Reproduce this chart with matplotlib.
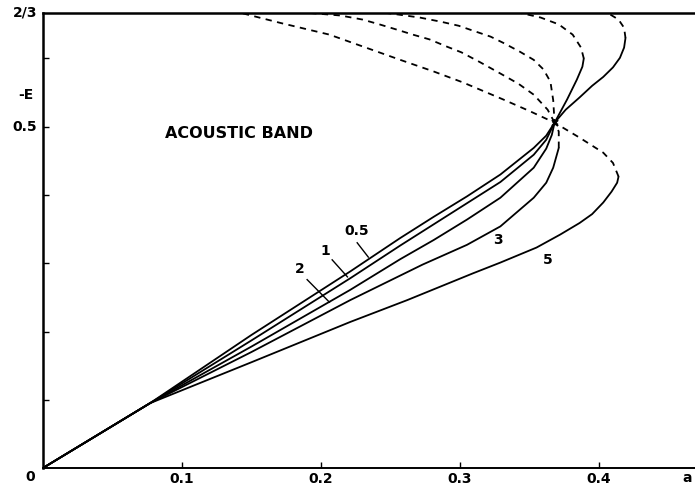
import matplotlib.pyplot as plt

# reduced coupling a, energy -E
# each curve: solid branch then dashed branch
a_05 = [0, 0.077, 0.150, 0.221, 0.257, 0.281, 0.305, 0.329, 0.353, 0.362, 0.368, 0.376, 0.386, 0.395, 0.403, 0.410, 0.415, 0.418, 0.419]
E_05 = [0, 0.095, 0.195, 0.288, 0.337, 0.368, 0.398, 0.430, 0.469, 0.487, 0.506, 0.525, 0.543, 0.560, 0.573, 0.587, 0.601, 0.616, 0.630]
a_05d = [0.419, 0.418, 0.414, 0.406]
E_05d = [0.630, 0.645, 0.657, 0.667]

a_1 = [0, 0.077, 0.150, 0.221, 0.257, 0.281, 0.305, 0.329, 0.353, 0.362, 0.368, 0.377, 0.384, 0.388, 0.389]
E_1 = [0, 0.095, 0.187, 0.278, 0.326, 0.357, 0.388, 0.419, 0.459, 0.481, 0.506, 0.540, 0.569, 0.588, 0.600]
a_1d = [0.389, 0.387, 0.381, 0.371, 0.358, 0.343]
E_1d = [0.600, 0.616, 0.635, 0.650, 0.660, 0.667]

a_2 = [0, 0.077, 0.150, 0.221, 0.257, 0.281, 0.305, 0.329, 0.353, 0.362, 0.366, 0.368]
E_2 = [0, 0.095, 0.178, 0.261, 0.306, 0.334, 0.364, 0.396, 0.440, 0.468, 0.488, 0.506]
a_2d = [0.368, 0.363, 0.353, 0.342, 0.329, 0.314, 0.301, 0.291, 0.278, 0.266, 0.255, 0.242, 0.230, 0.214, 0.190]
E_2d = [0.506, 0.525, 0.547, 0.563, 0.578, 0.595, 0.609, 0.617, 0.628, 0.635, 0.642, 0.650, 0.657, 0.663, 0.667]

a_3 = [0, 0.077, 0.150, 0.221, 0.273, 0.305, 0.329, 0.353, 0.362, 0.367, 0.371]
E_3 = [0, 0.095, 0.170, 0.246, 0.298, 0.327, 0.354, 0.396, 0.418, 0.440, 0.469]
a_3d = [0.371, 0.371, 0.368, 0.367, 0.365, 0.360, 0.353, 0.343, 0.331, 0.322, 0.309, 0.299, 0.286, 0.271, 0.257, 0.246]
E_3d = [0.469, 0.493, 0.506, 0.539, 0.566, 0.584, 0.598, 0.610, 0.623, 0.632, 0.641, 0.648, 0.654, 0.660, 0.664, 0.667]

a_5 = [0, 0.077, 0.150, 0.221, 0.262, 0.309, 0.329, 0.355, 0.372, 0.386, 0.395, 0.403, 0.409, 0.413, 0.414]
E_5 = [0, 0.095, 0.155, 0.214, 0.246, 0.285, 0.301, 0.323, 0.342, 0.359, 0.372, 0.389, 0.405, 0.418, 0.427]
a_5d = [0.414, 0.410, 0.403, 0.386, 0.368, 0.350, 0.331, 0.302, 0.281, 0.257, 0.206, 0.171, 0.142]
E_5d = [0.427, 0.447, 0.462, 0.484, 0.506, 0.523, 0.540, 0.565, 0.581, 0.598, 0.635, 0.652, 0.667]

curves = [("0.5", a_05, E_05, a_05d, E_05d),
          ("1", a_1, E_1, a_1d, E_1d),
          ("2", a_2, E_2, a_2d, E_2d),
          ("3", a_3, E_3, a_3d, E_3d),
          ("5", a_5, E_5, a_5d, E_5d)]

x_ticks = [0.1, 0.2, 0.3, 0.4]
y_minor = [0.1, 0.2, 0.3, 0.4, 0.6]

fig = plt.figure(figsize=(6.95, 4.86), dpi=100)
ax = fig.add_axes([43 / 695, 18 / 486, 652 / 695, 455 / 486])
ax.set_xlim(0, 0.469)
ax.set_ylim(0, 2 / 3)

for name, a, E, ad, Ed in curves:
    ax.plot(a, E, color='black', lw=1.3, solid_capstyle='round', solid_joinstyle='round')
    ax.plot(ad, Ed, color='black', lw=1.3, linestyle=(0, (3.5, 3)))

ax.plot([0.368], [0.506], marker='x', color='black', ms=5, mew=1.5)

# curve labels and leaders
lab_font = dict(fontsize=10, fontweight='bold', ha='center', va='center')
ax.text(0.226, 0.347, "0.5", **lab_font)
ax.text(0.203, 0.318, "1", **lab_font)
ax.text(0.185, 0.292, "2", **lab_font)
ax.text(0.327, 0.334, "3", **lab_font)
ax.text(0.363, 0.305, "5", **lab_font)
ax.plot([0.226, 0.234], [0.330, 0.309], color='black', lw=1)
ax.plot([0.208, 0.219], [0.305, 0.280], color='black', lw=1)
ax.plot([0.190, 0.206], [0.276, 0.243], color='black', lw=1)

ax.text(0.088, 0.490, "ACOUSTIC BAND", fontsize=11.5, fontweight='bold', ha='left', va='center')

# frame: left, top and bottom only
for side in ['left', 'top']:
    ax.spines[side].set_linewidth(1.8)
ax.spines['bottom'].set_linewidth(1.4)
ax.spines['right'].set_visible(False)

ax.set_xticks(x_ticks)
ax.set_xticklabels(["0.1", "0.2", "0.3", "0.4"], fontsize=10, fontweight='bold')
ax.set_yticks(y_minor + [0.5])
ax.set_yticklabels(["", "", "", "", "", ""])
ax.tick_params(direction='in', length=4, width=1, pad=3)

ax.text(-0.004, 0.5, "0.5", fontsize=10, fontweight='bold', ha='right', va='center')
ax.text(-0.004, 2 / 3, "2/3", fontsize=10, fontweight='bold', ha='right', va='center')
ax.text(-0.007, 0.547, "-E", fontsize=10, fontweight='bold', ha='right', va='center')
ax.text(-0.006, -0.013, "0", fontsize=10, fontweight='bold', ha='right', va='center')
ax.text(0.463, -0.015, "a", fontsize=10, fontweight='bold', ha='center', va='center', clip_on=False)

fig.savefig("out.png", dpi=100)
